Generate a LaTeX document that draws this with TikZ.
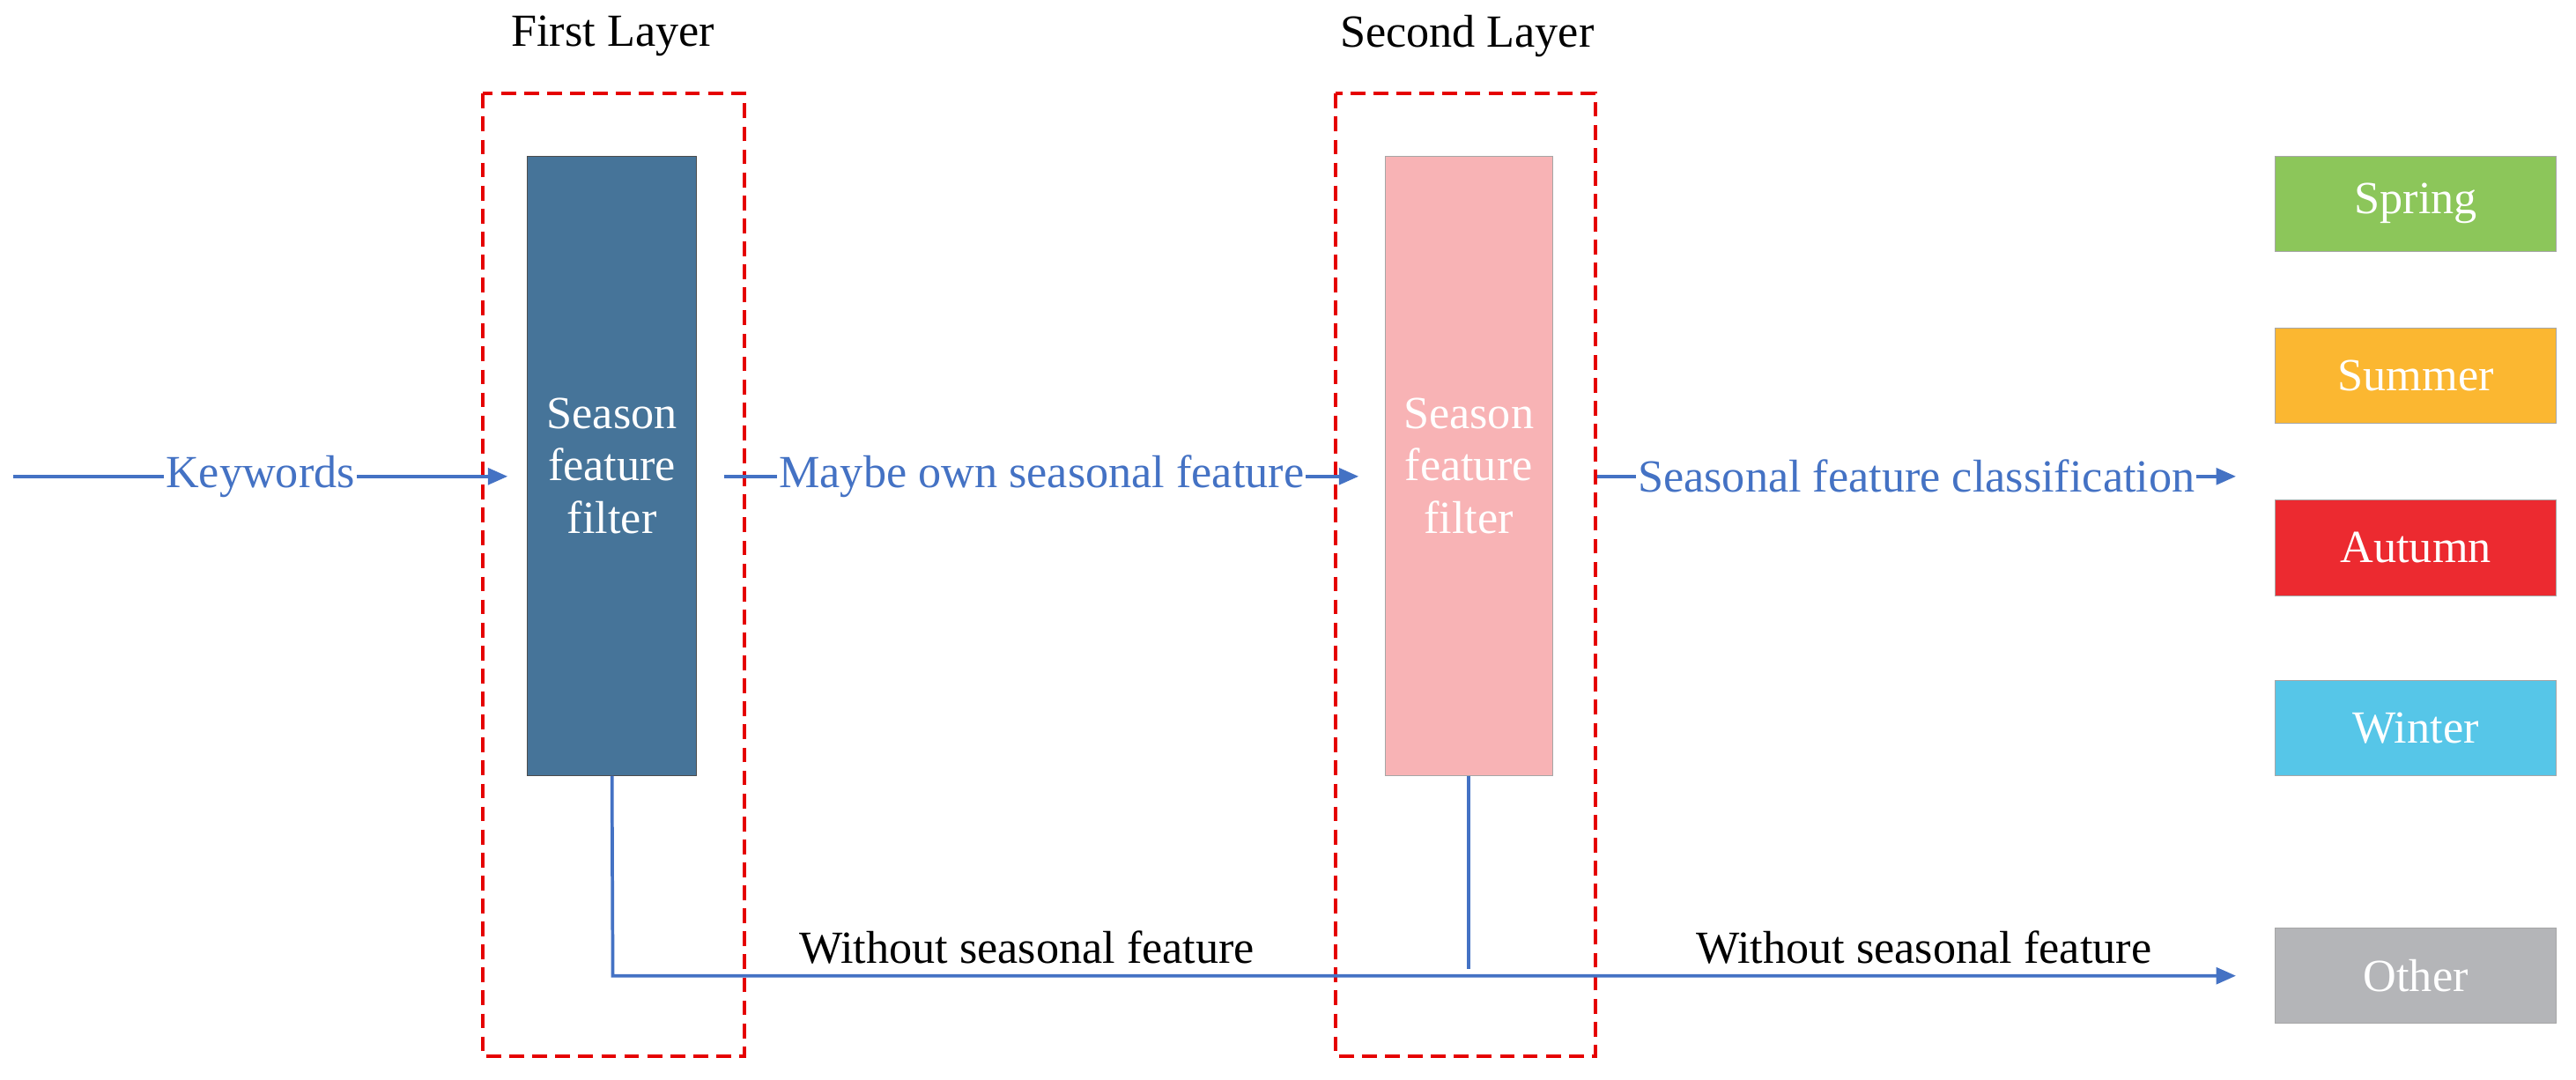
\documentclass[tikz,border=0pt]{standalone}
\usepackage{fontspec}
\setmainfont{Liberation Serif}
\usetikzlibrary{arrows.meta}
\definecolor{ln}{HTML}{4472C4}
\begin{document}
\begin{tikzpicture}[x=1pt,y=-1pt,
  every node/.style={font=\fontsize{28}{32}\selectfont},
  lab/.style={fill=white,inner sep=1pt},
  conn/.style={ln,line width=2pt,-{Triangle[length=12pt,width=10pt]}},
  reddash/.style={red!90!black,line width=2.2pt,dash pattern=on 9pt off 5pt},
  cls/.style={draw=gray!70,minimum width=171pt,minimum height=58pt,text=white,inner sep=0pt}]
\useasboundingbox (0,0) rectangle (1568,657);
\draw[reddash] (294,57) rectangle (453,643);
\draw[reddash] (813,57) rectangle (971,643);
\node (t1) at (373,22) {First Layer};
\node (t2) at (893,22) {Second Layer};
\node[fill={rgb,255:red,70;green,116;blue,153},draw=gray!60!black,minimum width=103pt,minimum height=377pt,text=white,align=center,inner sep=0pt] (f1) at (372.5,283.5) {Season\\feature\\filter};
\node[fill={rgb,255:red,248;green,179;blue,181},draw=gray!70,minimum width=102pt,minimum height=377pt,text=white,align=center,inner sep=0pt] (f2) at (894,283.5) {Season\\feature\\filter};
\node[cls,fill={rgb,255:red,140;green,198;blue,90}] (sp) at (1470.5,124) {Spring};
\node[cls,fill={rgb,255:red,251;green,183;blue,49}] (su) at (1470.5,228.5) {Summer};
\node[cls,fill={rgb,255:red,236;green,42;blue,48}] (au) at (1470.5,333.5) {Autumn};
\node[cls,fill={rgb,255:red,86;green,198;blue,232}] (wi) at (1470.5,443) {Winter};
\node[cls,fill={rgb,255:red,180;green,181;blue,184}] (ot) at (1470.5,594) {Other};
\coordinate (in) at (8,290);
\coordinate (o1) at (441,290);
\coordinate (a1) at (309,290);
\coordinate (a2) at (827,290);
\coordinate (o2) at (972,290);
\coordinate (a3) at (1361,290);
\coordinate (b1) at (373,594);
\coordinate (b2) at (1361,594);
\coordinate (p2) at (894,590);
\draw[conn] (in) -- node[lab]{Keywords} (a1);
\draw[conn] (o1) -- node[lab]{Maybe own seasonal feature} (a2);
\draw[conn] (o2) -- node[lab]{Seasonal feature classification} (a3);
\draw[conn] (f1.south) -- (b1) -- (b2);
\draw[ln,line width=2pt] (f2.south) -- (p2);
\node (w1) at (625,577) {Without seasonal feature};
\node (w2) at (1171,577) {Without seasonal feature};
\end{tikzpicture}
\end{document}
